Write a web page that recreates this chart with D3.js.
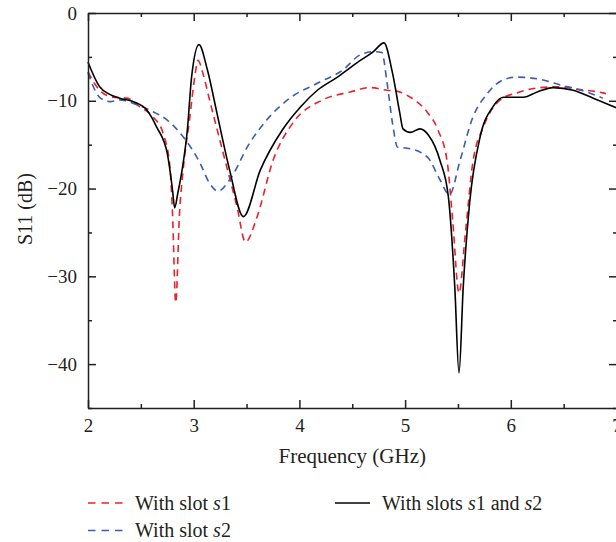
<!DOCTYPE html>
<html>
<head>
<meta charset="utf-8">
<script src="https://cdn.jsdelivr.net/npm/d3@7"></script>
<style>
  body { margin: 0; background: #fff; }
  svg { display: block; font-family: "Liberation Serif", "DejaVu Serif", serif; }
  .axis path, .axis line { stroke: #231f20; stroke-width: 1.5px; }
  .axis text { font-family: "Liberation Serif", serif; font-size: 19px; fill: #231f20; }
  .curve { fill: none; }
</style>
</head>
<body>
<div id="chart"></div>
<script>
// data (frequency in GHz, S11 in dB)
var freqS1 = [2.00, 2.11, 2.24, 2.37, 2.49, 2.62, 2.71, 2.775, 2.80, 2.83, 2.865, 2.90, 2.96, 3.01, 3.04, 3.09, 3.15, 3.28, 3.41, 3.49, 3.60, 3.75, 3.94, 4.22, 4.48, 4.67, 4.83, 4.92, 5.05, 5.11, 5.21, 5.31, 5.40, 5.45, 5.51, 5.57, 5.64, 5.74, 5.90, 6.06, 6.28, 6.47, 6.63, 6.87, 6.90];
var s11S1  = [-6.7, -8.8, -9.6, -9.7, -10.7, -11.9, -13.7, -17.5, -23.0, -33.0, -23.0, -17.9, -12.2, -7.3, -5.4, -7.0, -9.9, -16.0, -22.1, -26.1, -23.2, -16.8, -12.5, -9.9, -9.0, -8.5, -8.8, -8.9, -9.6, -10.1, -11.3, -13.3, -17.1, -23.6, -31.9, -25.1, -17.1, -13.0, -9.9, -9.1, -8.5, -8.4, -8.7, -9.1, -9.2];

var freqS2 = [2.00, 2.11, 2.21, 2.30, 2.43, 2.59, 2.75, 2.90, 3.06, 3.15, 3.23, 3.34, 3.53, 3.69, 3.91, 4.17, 4.41, 4.57, 4.70, 4.78, 4.83, 4.88, 4.93, 5.02, 5.21, 5.33, 5.42, 5.52, 5.64, 5.77, 5.93, 6.06, 6.25, 6.47, 6.72, 6.87];
var s11S2  = [-6.8, -9.6, -10.1, -9.9, -10.3, -11.1, -12.2, -14.1, -17.1, -19.4, -20.3, -19.0, -14.8, -12.2, -9.7, -8.0, -6.5, -4.8, -4.4, -4.5, -8.0, -12.5, -15.3, -15.4, -16.4, -19.0, -20.7, -16.8, -11.9, -9.3, -7.6, -7.3, -7.5, -8.2, -9.0, -9.7];

var freqBoth = [2.00, 2.11, 2.21, 2.30, 2.43, 2.56, 2.65, 2.75, 2.80, 2.82, 2.85, 2.89, 2.94, 2.98, 3.05, 3.13, 3.22, 3.34, 3.47, 3.63, 3.84, 4.01, 4.17, 4.36, 4.54, 4.70, 4.80, 4.88, 4.95, 4.98, 5.05, 5.14, 5.22, 5.33, 5.41, 5.47, 5.51, 5.55, 5.61, 5.71, 5.83, 5.93, 6.12, 6.25, 6.40, 6.59, 6.78, 7.00];
var s11Both  = [-5.6, -8.4, -9.3, -9.7, -10.1, -11.1, -13.0, -16.0, -20.2, -22.2, -20.5, -17.9, -13.3, -7.3, -3.6, -6.5, -11.4, -17.9, -23.2, -17.9, -13.3, -10.7, -8.8, -7.3, -5.7, -4.4, -3.4, -6.8, -11.4, -13.2, -13.6, -13.2, -13.9, -16.8, -21.0, -31.2, -41.0, -31.2, -21.7, -14.1, -10.7, -9.6, -9.6, -9.0, -8.5, -8.8, -9.7, -10.8];

var xMajor = [2, 3, 4, 5, 6, 7];
var xMinor = [2.5, 3.5, 4.5, 5.5, 6.5];
var yMajor = [0, -10, -20, -30, -40];
var yMinor = [-5, -15, -25, -35, -45];

var seriesNames = ["With slot s1", "With slot s2", "With slots s1 and s2"];

var width = 616, height = 542;
var plotLeft = 88, plotRight = 616.5, plotTop = 13, plotBottom = 408;

var x = d3.scaleLinear().domain([2, 7]).range([plotLeft, plotRight]);
var y = d3.scaleLinear().domain([-45, 0]).range([plotBottom, plotTop]);

var svg = d3.select("#chart").append("svg")
    .attr("width", width)
    .attr("height", height);

function pairs(fs, vs) {
  return fs.map(function(f, i) { return {f: f, v: vs[i]}; });
}

var line = d3.line()
    .x(function(d) { return x(d.f); })
    .y(function(d) { return y(d.v); })
    .curve(d3.curveMonotoneX);

var series = [
  {name: seriesNames[0], data: pairs(freqS1, s11S1), color: "#e8232b", dash: "7,5"},
  {name: seriesNames[1], data: pairs(freqS2, s11S2), color: "#3a5cb4", dash: "7,5"},
  {name: seriesNames[2], data: pairs(freqBoth, s11Both), color: "#000000", dash: null}
];

// curves
series.forEach(function(s) {
  svg.append("path")
    .datum(s.data)
    .attr("class", "curve")
    .attr("d", line)
    .style("stroke", s.color)
    .style("stroke-width", "1.6px")
    .style("stroke-dasharray", s.dash);
});

// bottom axis
svg.append("g").attr("class", "axis")
  .attr("transform", "translate(0," + plotBottom + ")")
  .call(d3.axisBottom(x).tickValues(xMajor).tickSize(-8).tickSizeOuter(0).tickPadding(11).tickFormat(d3.format("d")));
svg.append("g").attr("class", "axis")
  .attr("transform", "translate(0," + plotBottom + ")")
  .call(d3.axisBottom(x).tickValues(xMinor).tickSize(-4).tickSizeOuter(0).tickFormat(""))
  .select(".domain").remove();

// top axis
svg.append("g").attr("class", "axis")
  .attr("transform", "translate(0," + plotTop + ")")
  .call(d3.axisTop(x).tickValues(xMajor).tickSize(-8).tickSizeOuter(0).tickFormat(""));
svg.append("g").attr("class", "axis")
  .attr("transform", "translate(0," + plotTop + ")")
  .call(d3.axisTop(x).tickValues(xMinor).tickSize(-4).tickSizeOuter(0).tickFormat(""))
  .select(".domain").remove();

// left axis
svg.append("g").attr("class", "axis")
  .attr("transform", "translate(" + plotLeft + ",0)")
  .call(d3.axisLeft(y).tickValues(yMajor).tickSize(-8).tickSizeOuter(0).tickPadding(11)
    .tickFormat(function(d) { return d < 0 ? "\u2212" + Math.abs(d) : d; }));
svg.append("g").attr("class", "axis")
  .attr("transform", "translate(" + plotLeft + ",0)")
  .call(d3.axisLeft(y).tickValues(yMinor).tickSize(-4).tickSizeOuter(0).tickFormat(""))
  .select(".domain").remove();

// right axis (frame edge falls just outside the window)
svg.append("g").attr("class", "axis")
  .attr("transform", "translate(617,0)")
  .call(d3.axisRight(y).tickValues(yMajor).tickSize(-8).tickSizeOuter(0).tickFormat(""));
svg.append("g").attr("class", "axis")
  .attr("transform", "translate(617,0)")
  .call(d3.axisRight(y).tickValues(yMinor).tickSize(-4).tickSizeOuter(0).tickFormat(""))
  .select(".domain").remove();

// axis titles
svg.append("text")
  .attr("x", (plotLeft + plotRight) / 2)
  .attr("y", 463)
  .attr("text-anchor", "middle")
  .style("font-size", "21px")
  .style("fill", "#231f20")
  .text("Frequency (GHz)");

svg.append("text")
  .attr("transform", "translate(32,209) rotate(-90)")
  .attr("text-anchor", "middle")
  .style("font-size", "20px")
  .style("fill", "#231f20")
  .text("S11 (dB)");

// legend
var legendPos = [[88, 503], [88, 530.5], [335, 503]];
series.forEach(function(s, i) {
  var g = svg.append("g").attr("transform", "translate(" + legendPos[i][0] + "," + legendPos[i][1] + ")");
  g.append("line")
    .attr("x1", 0).attr("x2", 35).attr("y1", 0).attr("y2", 0)
    .style("stroke", s.color)
    .style("stroke-width", "1.6px")
    .style("stroke-dasharray", s.dash ? "7.5,6" : null);
  var t = g.append("text")
    .attr("x", 47)
    .attr("y", 6.5)
    .style("font-size", "20px")
    .style("fill", "#231f20");
  // italic slot names (s1, s2)
  s.name.split(/(s[12])/).forEach(function(part) {
    if (!part) return;
    var m = part.match(/^s([12])$/);
    if (m) {
      t.append("tspan").style("font-style", "italic").text("s");
      t.append("tspan").text(m[1]);
    } else {
      t.append("tspan").text(part);
    }
  });
});
</script>
</body>
</html>
